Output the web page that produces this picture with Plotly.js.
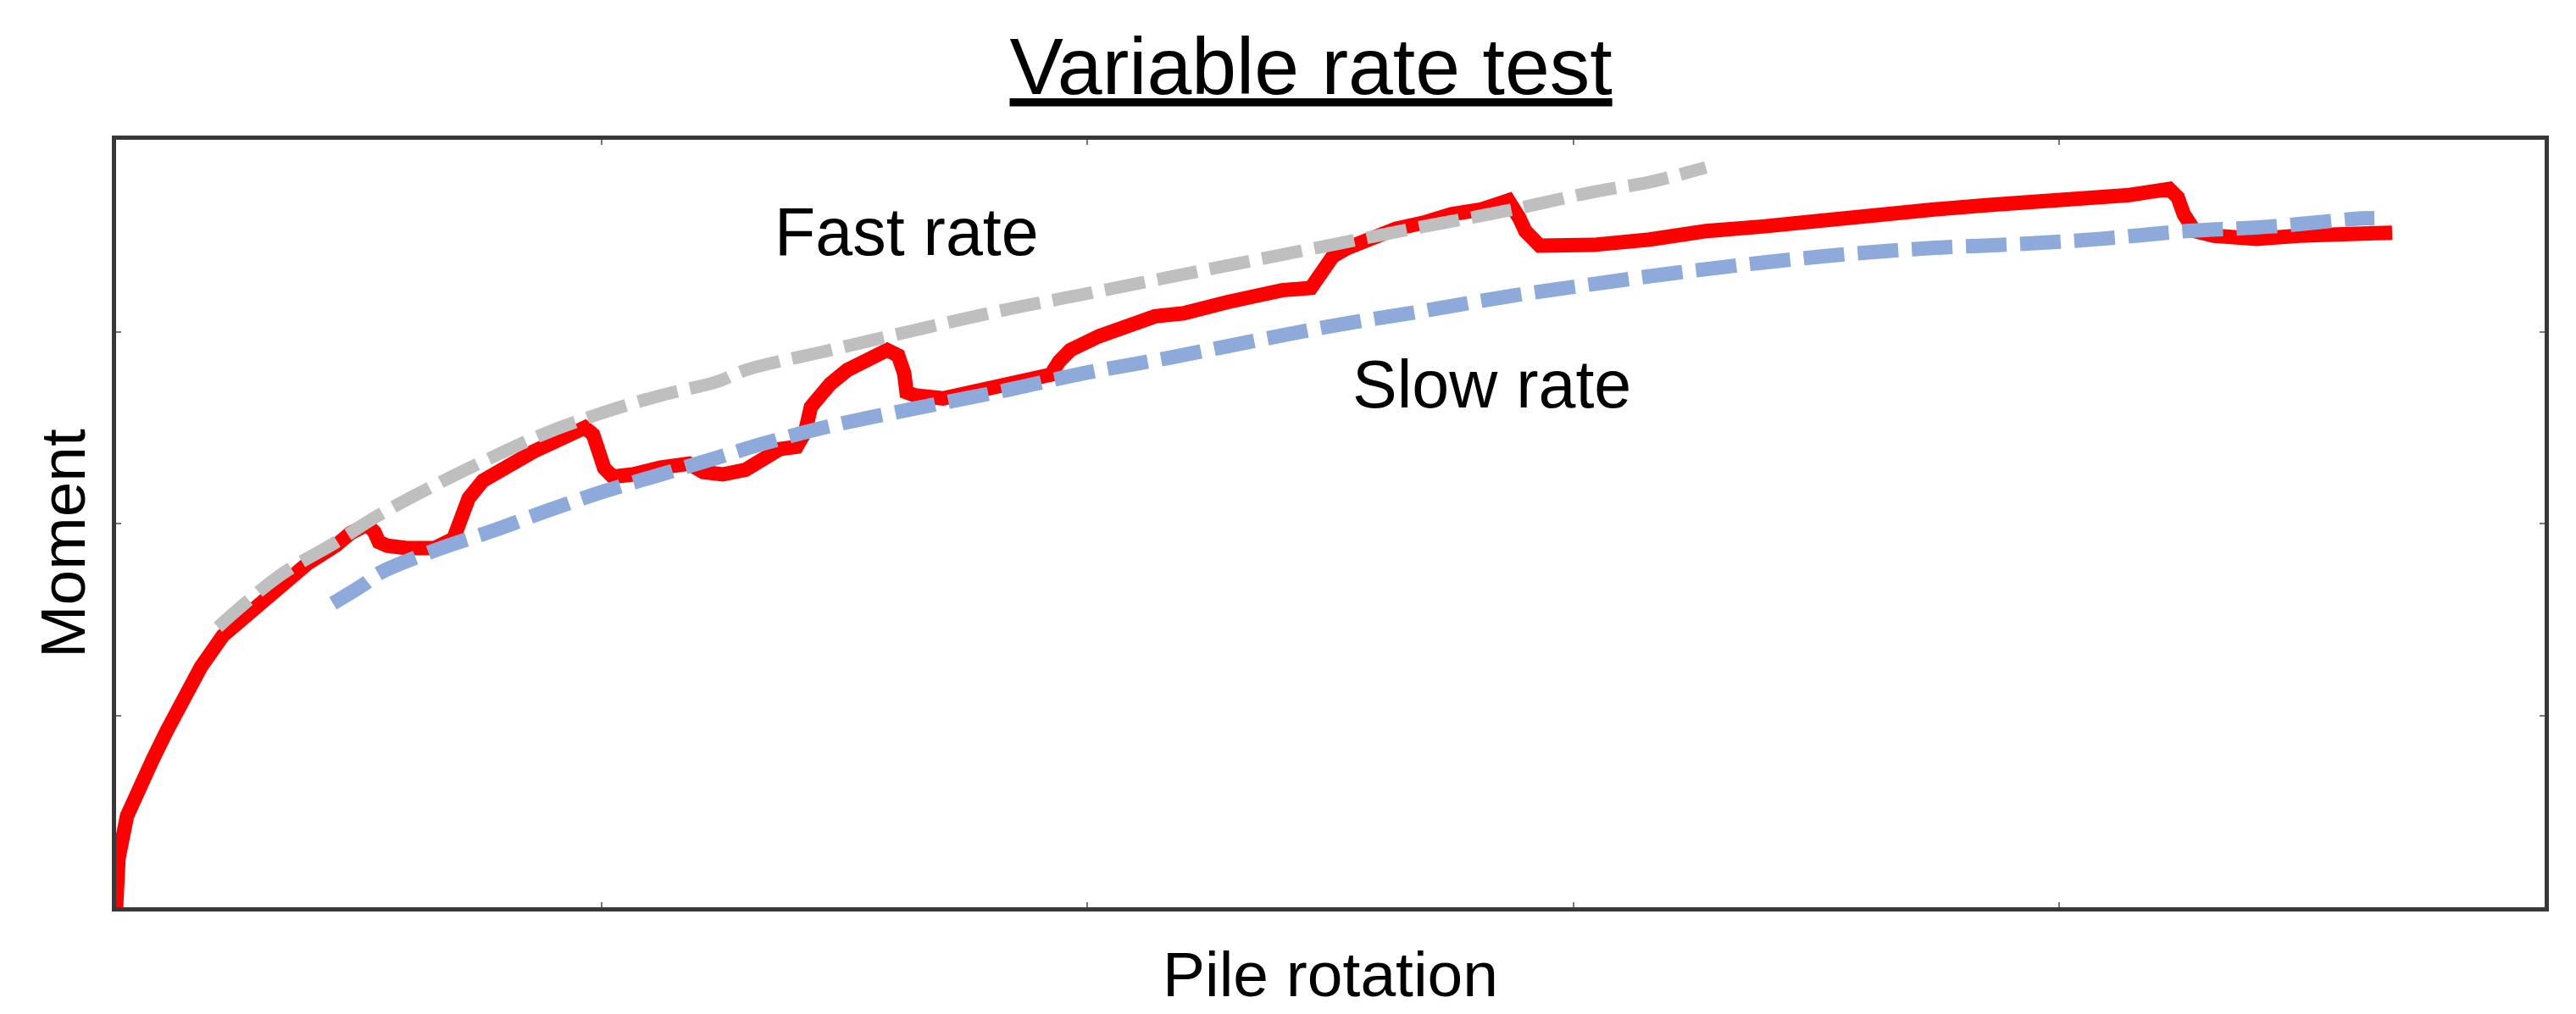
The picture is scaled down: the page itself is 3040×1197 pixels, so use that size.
<!DOCTYPE html>
<html>
<head>
<meta charset="utf-8">
<script src="https://cdn.plot.ly/plotly-3.0.1.min.js"></script>
<style>
  html, body { margin: 0; padding: 0; background: #ffffff; }
  #chart { width: 3040px; height: 1197px; }
</style>
</head>
<body>
<div id="chart"></div>
<script>
// Measured test curve (arbitrary units: pile rotation 0-100, moment 0-100)
const measuredRotation = [0, 0.10, 0.45, 0.91, 1.50, 2.09, 2.79, 3.49, 4.40, 5.58, 6.73, 7.89, 9.07, 9.63, 10.33, 10.64, 10.82, 11.17, 11.97, 13.12,
  13.89, 14.17, 14.52, 15.11, 16.05, 17.20, 18.35, 19.30, 19.64, 19.89, 20.10, 20.45, 21.28, 22.44, 23.59, 24.18, 24.98, 25.92, 26.52,
  27.32, 28.02, 28.37, 28.61, 28.96, 29.41, 30.11, 30.91, 31.75, 32.20, 32.45, 32.55, 32.90, 34.05, 35.24, 36.39, 37.54, 38.49,
  38.83, 39.29, 40.47, 41.63, 42.78, 43.96, 44.52, 45.71, 46.86, 48.01, 49.20, 49.55, 50.10, 50.70, 51.50, 52.69, 53.84, 54.99,
  56.18, 57.33, 57.78, 58.03, 58.62, 59.67, 60.82, 63.15, 65.46, 67.80, 70.13, 72.44, 74.77, 77.11, 78.96, 80.60, 82.90, 84.54,
  84.89, 85.14, 85.59, 86.39, 88.14, 89.88, 91.63, 93.72];
const measuredMoment = [0, 6.4, 11.9, 15.6, 19.2, 23.0, 27.7, 31.3, 35.4, 38.7, 42.1, 44.8, 47.2, 48.7, 49.9, 48.9, 47.6, 47.1, 46.8, 46.8,
  48.0, 50.3, 53.3, 55.6, 57.5, 59.4, 61.1, 62.5, 61.6, 59.4, 57.2, 56.1, 56.4, 57.3, 57.8, 56.7, 56.4, 57.0, 58.3,
  59.7, 60.0, 61.9, 65.2, 66.7, 68.2, 70.0, 71.1, 72.6, 71.9, 69.6, 67.1, 66.7, 66.3, 67.2, 67.8, 68.8, 69.4,
  71.1, 72.6, 74.4, 75.9, 77.0, 77.4, 77.7, 78.8, 79.6, 80.4, 80.7, 82.1, 84.8, 85.9, 87.0, 88.4, 89.2, 90.3,
  90.9, 92.1, 89.8, 88.1, 86.2, 86.2, 86.3, 87.0, 88.1, 88.7, 89.5, 90.4, 90.9, 91.5, 91.9, 92.3, 92.8, 93.6,
  92.5, 90.3, 88.1, 87.5, 87.1, 87.5, 87.5, 87.9];

// Fast rate trend line
const fastRotation = [4.19, 6.73, 9.07, 10.82, 13.12, 15.46, 17.79, 20.10, 22.44, 24.77, 25.92, 29.41, 32.90, 36.39, 39.88, 43.37,
  46.86, 50.35, 53.84, 57.33, 60.82, 63.15, 65.46];
const fastMoment = [36.5, 43.2, 47.6, 51.1, 55.0, 58.6, 61.9, 64.5, 66.7, 68.5, 70.0, 72.6, 75.2, 77.7, 79.9, 82.1,
  84.3, 86.5, 88.7, 90.8, 93.2, 94.5, 96.4];

// Slow rate trend line
const slowRotation = [8.93, 10.22, 10.82, 13.12, 15.46, 17.79, 20.10, 22.44, 24.77, 26.52, 29.41, 32.90, 36.39, 39.88, 43.37, 46.86,
  50.35, 53.84, 57.33, 60.82, 64.31, 67.80, 71.28, 74.77, 78.26, 81.75, 85.24, 88.73, 92.22, 92.99];
const slowMoment = [39.6, 42.1, 43.5, 46.5, 49.0, 51.7, 54.2, 56.4, 58.6, 60.3, 62.7, 65.0, 67.2, 69.6, 71.6, 73.8,
  75.9, 77.7, 79.6, 81.2, 82.7, 84.0, 85.1, 85.9, 86.4, 87.1, 88.1, 88.7, 89.7, 89.8];

const labels = ["Fast rate", "Slow rate"];
const labelRotation = [32.55, 56.63];
const labelMoment = [88.0, 68.2];

const FONT = '"Liberation Sans", Arial, sans-serif';

const traces = [
  {
    x: measuredRotation, y: measuredMoment, type: 'scatter', mode: 'lines',
    name: 'Test', line: { color: '#ff0000', width: 17 }, hoverinfo: 'skip'
  },
  {
    x: fastRotation, y: fastMoment, type: 'scatter', mode: 'lines',
    name: 'Fast rate', line: { color: '#bfbfbf', width: 15, dash: '48px,15px', shape: 'spline' }, hoverinfo: 'skip'
  },
  {
    x: slowRotation, y: slowMoment, type: 'scatter', mode: 'lines',
    name: 'Slow rate', line: { color: '#8eaadb', width: 17, dash: '48px,16px', shape: 'spline' }, hoverinfo: 'skip'
  }
];

const axisCommon = {
  showgrid: false, zeroline: false, showticklabels: false,
  showline: true, linewidth: 5, linecolor: '#383838', mirror: 'ticks',
  ticks: 'inside', ticklen: 6, tickwidth: 2, tickcolor: '#777777'
};

const layout = {
  width: 3040, height: 1197,
  paper_bgcolor: '#ffffff', plot_bgcolor: '#ffffff',
  showlegend: false,
  margin: { l: 137, r: 37, t: 165, b: 126 },
  font: { family: FONT, color: '#000000' },
  title: {
    text: '<u>Variable rate test</u>',
    font: { family: FONT, size: 95, color: '#000000' },
    xref: 'container', x: 0.5089, xanchor: 'center',
    yref: 'container', y: 0.935, yanchor: 'middle'
  },
  xaxis: Object.assign({}, axisCommon, {
    range: [0, 100], dtick: 20, tick0: 0,
    title: { text: 'Pile rotation', font: { family: FONT, size: 75, color: '#000000' }, standoff: 50 }
  }),
  yaxis: Object.assign({}, axisCommon, {
    range: [0, 100], dtick: 25, tick0: 0,
    title: { text: '' }
  }),
  annotations: labels.map((t, i) => ({
    text: t, x: labelRotation[i], y: labelMoment[i], xref: 'x', yref: 'y',
    showarrow: false, xanchor: 'center', yanchor: 'middle',
    font: { family: FONT, size: 79, color: '#000000' }
  })).concat([{
    text: 'Moment', xref: 'paper', yref: 'paper', x: 0, y: 0.4735,
    xanchor: 'center', yanchor: 'middle', xshift: -63, textangle: -90,
    showarrow: false, font: { family: FONT, size: 75, color: '#000000' }
  }])
};

Plotly.newPlot('chart', traces, layout, { staticPlot: true, displayModeBar: false });
</script>
</body>
</html>
